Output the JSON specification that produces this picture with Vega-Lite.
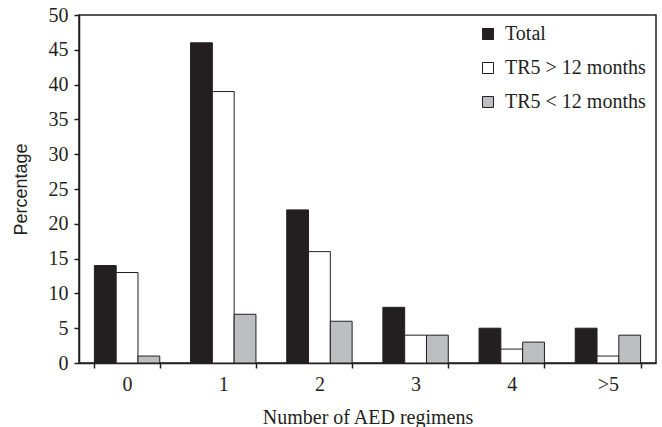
{
  "$schema": "https://vega.github.io/schema/vega-lite/v6.json",
  "width": 577,
  "height": 348,
  "autosize": {"type": "none"},
  "padding": {"left": 79, "top": 15, "right": 6, "bottom": 64},
  "background": "white",
  "data": {
    "values": [
      {"regimens": "0", "group": "Total", "pct": 14},
      {"regimens": "0", "group": "TR5 > 12 months", "pct": 13},
      {"regimens": "0", "group": "TR5 < 12 months", "pct": 1},
      {"regimens": "1", "group": "Total", "pct": 46},
      {"regimens": "1", "group": "TR5 > 12 months", "pct": 39},
      {"regimens": "1", "group": "TR5 < 12 months", "pct": 7},
      {"regimens": "2", "group": "Total", "pct": 22},
      {"regimens": "2", "group": "TR5 > 12 months", "pct": 16},
      {"regimens": "2", "group": "TR5 < 12 months", "pct": 6},
      {"regimens": "3", "group": "Total", "pct": 8},
      {"regimens": "3", "group": "TR5 > 12 months", "pct": 4},
      {"regimens": "3", "group": "TR5 < 12 months", "pct": 4},
      {"regimens": "4", "group": "Total", "pct": 5},
      {"regimens": "4", "group": "TR5 > 12 months", "pct": 2},
      {"regimens": "4", "group": "TR5 < 12 months", "pct": 3},
      {"regimens": ">5", "group": "Total", "pct": 5},
      {"regimens": ">5", "group": "TR5 > 12 months", "pct": 1},
      {"regimens": ">5", "group": "TR5 < 12 months", "pct": 4}
    ]
  },
  "config": {
    "view": {"stroke": "#231f20", "strokeWidth": 1.5},
    "axis": {"domainColor": "#231f20", "domainWidth": 1.5, "tickColor": "#231f20", "tickWidth": 1.5, "grid": false}
  },
  "mark": {"type": "bar", "stroke": "#231f20", "strokeWidth": 1},
  "encoding": {
    "x": {
      "field": "regimens", "type": "nominal", "sort": null,
      "scale": {"paddingInner": 0.32, "paddingOuter": 0.16},
      "axis": {
        "title": "Number of AED regimens", "titleFont": "Liberation Serif", "titleFontSize": 20,
        "titleFontWeight": "normal", "titleColor": "#231f20", "titlePadding": 13,
        "labelFont": "Liberation Serif", "labelFontSize": 20, "labelColor": "#231f20",
        "labelAngle": 0, "labelPadding": 6, "tickBand": "extent", "tickSize": 5
      }
    },
    "xOffset": {"field": "group", "type": "nominal", "sort": ["Total", "TR5 > 12 months", "TR5 < 12 months"], "scale": {"paddingInner": 0, "paddingOuter": 0}},
    "y": {
      "field": "pct", "type": "quantitative",
      "scale": {"domain": [0, 50], "nice": false},
      "axis": {
        "title": "Percentage", "titleFont": "Liberation Sans", "titleFontSize": 18,
        "titleFontWeight": "normal", "titleColor": "#231f20", "titlePadding": 18,
        "labelFont": "Liberation Serif", "labelFontSize": 20, "labelColor": "#231f20",
        "values": [0, 5, 10, 15, 20, 25, 30, 35, 40, 45, 50], "tickSize": 5, "labelPadding": 6
      }
    },
    "fill": {
      "field": "group", "type": "nominal",
      "sort": ["Total", "TR5 > 12 months", "TR5 < 12 months"],
      "scale": {"domain": ["Total", "TR5 > 12 months", "TR5 < 12 months"], "range": ["#231f20", "#ffffff", "#bcbec0"]},
      "legend": {
        "title": null, "orient": "none", "legendX": 399, "legendY": 9,
        "symbolType": "square", "symbolSize": 121, "symbolStrokeColor": "#231f20", "symbolStrokeWidth": 1,
        "labelFont": "Liberation Serif", "labelFontSize": 20, "labelColor": "#231f20",
        "rowPadding": 14, "labelOffset": 7, "padding": 0
      }
    }
  }
}
